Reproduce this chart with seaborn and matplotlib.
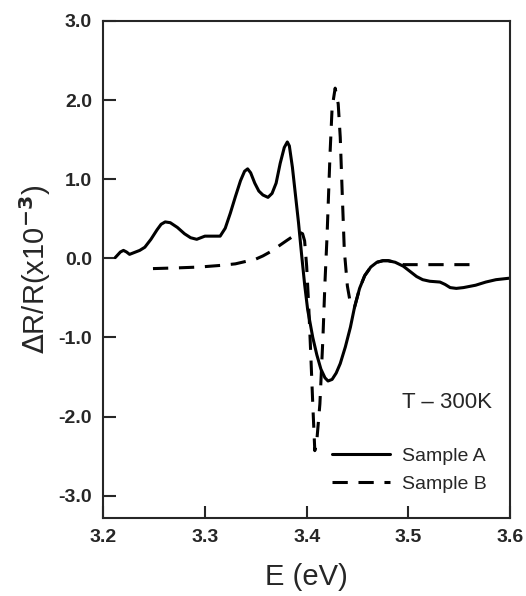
import pandas as pd
import seaborn as sns
import matplotlib.pyplot as plt

# Sample A (solid)
energy_a = [3.212, 3.217, 3.220, 3.223, 3.226, 3.230, 3.236, 3.241, 3.247, 3.253,
            3.257, 3.261, 3.266, 3.273, 3.280, 3.286, 3.292, 3.296, 3.300, 3.308,
            3.315, 3.320, 3.325, 3.330, 3.335, 3.339, 3.342, 3.345, 3.349, 3.353,
            3.357, 3.362, 3.366, 3.370, 3.374, 3.378, 3.381, 3.383, 3.386, 3.389,
            3.392, 3.395, 3.398, 3.401, 3.406, 3.410, 3.414, 3.418, 3.421, 3.425,
            3.429, 3.433, 3.438, 3.443, 3.447, 3.452, 3.457, 3.463, 3.469, 3.475,
            3.480, 3.487, 3.495, 3.502, 3.508, 3.514, 3.521, 3.531, 3.536, 3.541,
            3.547, 3.554, 3.566, 3.576, 3.586, 3.600]
dr_a = [0.01, 0.08, 0.10, 0.08, 0.05, 0.07, 0.10, 0.14, 0.24, 0.36,
        0.43, 0.46, 0.45, 0.39, 0.31, 0.26, 0.24, 0.26, 0.28, 0.28,
        0.28, 0.38, 0.57, 0.78, 0.98, 1.10, 1.13, 1.08, 0.95, 0.85,
        0.80, 0.77, 0.82, 0.95, 1.20, 1.40, 1.47, 1.42, 1.15, 0.80,
        0.45, 0.05, -0.33, -0.65, -1.00, -1.22, -1.40, -1.51, -1.55, -1.53,
        -1.45, -1.33, -1.12, -0.87, -0.62, -0.38, -0.22, -0.11, -0.05, -0.03,
        -0.03, -0.05, -0.10, -0.17, -0.23, -0.27, -0.29, -0.30, -0.33, -0.37,
        -0.38, -0.37, -0.34, -0.30, -0.27, -0.25]

# Sample B (dashed)
energy_b = [3.249, 3.275, 3.295, 3.315, 3.330, 3.340, 3.350, 3.357, 3.364, 3.372,
            3.381, 3.388, 3.393, 3.396, 3.398, 3.400, 3.402, 3.404, 3.406, 3.408,
            3.410, 3.413, 3.416, 3.418, 3.420, 3.423, 3.425, 3.428, 3.431, 3.433,
            3.435, 3.437, 3.440, 3.443, 3.447, 3.452, 3.457, 3.463, 3.469, 3.475,
            3.480, 3.487, 3.495, 3.520, 3.560]
dr_b = [-0.13, -0.12, -0.11, -0.09, -0.07, -0.04, -0.01, 0.03, 0.08, 0.15,
        0.23, 0.29, 0.33, 0.31, 0.22, -0.10, -0.60, -1.20, -1.84, -2.43,
        -2.30, -1.84, -1.00, -0.30, 0.27, 1.33, 1.90, 2.15, 1.95, 1.53,
        0.80, 0.10, -0.35, -0.57, -0.62, -0.38, -0.22, -0.11, -0.05, -0.03,
        -0.03, -0.05, -0.08, -0.08, -0.08]

df = pd.concat([
    pd.DataFrame({"E": energy_b, "dR": dr_b, "sample": "Sample B"}),
    pd.DataFrame({"E": energy_a, "dR": dr_a, "sample": "Sample A"}),
], ignore_index=True)

sns.set_style("ticks")
plt.rcParams['font.family'] = ['Liberation Sans', 'DejaVu Sans']

fig = plt.figure(figsize=(5.26, 5.96), dpi=100)
ax = fig.add_axes([0.196, 0.131, 0.774, 0.834])

sns.lineplot(data=df, x="E", y="dR", hue="sample", style="sample",
             hue_order=["Sample A", "Sample B"], style_order=["Sample A", "Sample B"],
             palette=["black", "black"], dashes={"Sample A": "", "Sample B": (5, 3.5)},
             sort=False, estimator=None, linewidth=2.2, ax=ax)

ax.set_xlim(3.2, 3.6)
ax.set_ylim(-3.28, 3.0)
ax.set_xticks([3.2, 3.3, 3.4, 3.5, 3.6])
ax.set_yticks([-3, -2, -1, 0, 1, 2, 3])
ax.set_yticklabels(["-3.0", "-2.0", "-1.0", "0.0", "1.0", "2.0", "3.0"])
ax.tick_params(direction="in", length=9, width=1.5, labelsize=14, pad=8)
for lab in ax.get_xticklabels() + ax.get_yticklabels():
    lab.set_fontweight("bold")
for sp in ax.spines.values():
    sp.set_visible(True)
    sp.set_linewidth(1.5)

ax.set_xlabel("E (eV)", fontsize=21, labelpad=12)
ax.set_ylabel(r"$\Delta$R/R(x10$^{\mathbf{-3}}$)", fontsize=21, labelpad=4)

ax.text(0.735, 0.222, "T \u2013 300K", transform=ax.transAxes, fontsize=16)
ax.legend(loc="lower right", bbox_to_anchor=(0.985, 0.015), frameon=False,
          fontsize=14, handlelength=3.0, handletextpad=0.6, labelspacing=0.55,
          title=None)

fig.savefig("out.png", dpi=100)
